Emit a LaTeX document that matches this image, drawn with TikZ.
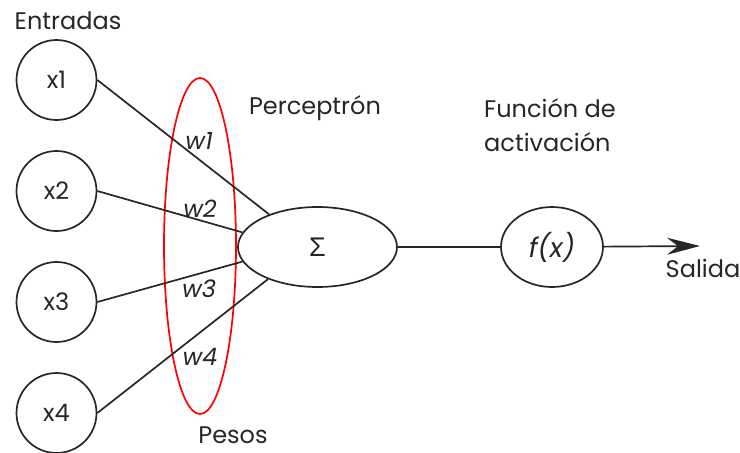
\documentclass[tikz,border=0pt]{standalone}
\usepackage{fontspec}
\setmainfont{Poppins}
\newfontfamily\sigmafont{Liberation Sans}
\usetikzlibrary{shapes.geometric,arrows.meta}
\begin{document}
\begin{tikzpicture}[x=1pt,y=-1pt,
  every node/.style={font=\fontsize{24}{28}\selectfont, text=black!85},
  inp/.style={circle, draw=black!85, line width=1.7pt, minimum size=80pt, inner sep=0pt},
  ovalbox/.style={ellipse, draw=black!85, line width=1.7pt, inner sep=0pt},
  wire/.style={draw=black!85, line width=1.7pt},
  lbl/.style={inner sep=0pt, align=left},
  wlbl/.style={inner sep=0pt, font=\fontsize{24}{28}\selectfont\itshape}
]
\useasboundingbox (0,0) rectangle (740,453);
\node[inp] (x1) at (56.5,80) {x1};
\node[inp] (x2) at (56.5,191) {x2};
\node[inp] (x3) at (56.5,302) {x3};
\node[inp] (x4) at (56.5,413) {x4};
\node[ellipse, draw=red, line width=1.7pt, minimum width=72pt, minimum height=336pt, inner sep=0pt] (pesos) at (200,246) {};
\node[ovalbox, minimum width=159pt, minimum height=80pt] (sigma) at (317.5,247) {\sigmafont\fontsize{27}{30}\selectfont Σ};
\node[ovalbox, minimum width=102pt, minimum height=80pt] (fx) at (552,247) {\fontsize{27}{30}\selectfont\itshape f(x)};
\coordinate (out) at (700,246);
\draw[wire] (x1.east) -- (sigma.146);
\draw[wire] (x2.east) -- (sigma.169);
\draw[wire] (x3.east) -- (sigma.191);
\draw[wire] (x4.east) -- (sigma.213);
\draw[wire] (sigma) -- (fx);
\draw[wire, -{Stealth[length=33pt,width=17pt,inset=11pt]}] (fx) -- (out);
\node[lbl] (tin) at (68,21) {Entradas};
\node[lbl] (tper) at (315,108) {Perceptrón};
\node[lbl, font=\fontsize{24}{34}\selectfont] (tact) at (550,125) {Función de\\activación};
\node[lbl] (tpes) at (233,435) {Pesos};
\node[lbl] (tsal) at (703,268) {Salida};
\node[wlbl] (w1) at (199,141) {w1};
\node[wlbl] (w2) at (200,209) {w2};
\node[wlbl] (w3) at (199,289) {w3};
\node[wlbl] (w4) at (200,357) {w4};
\end{tikzpicture}
\end{document}
